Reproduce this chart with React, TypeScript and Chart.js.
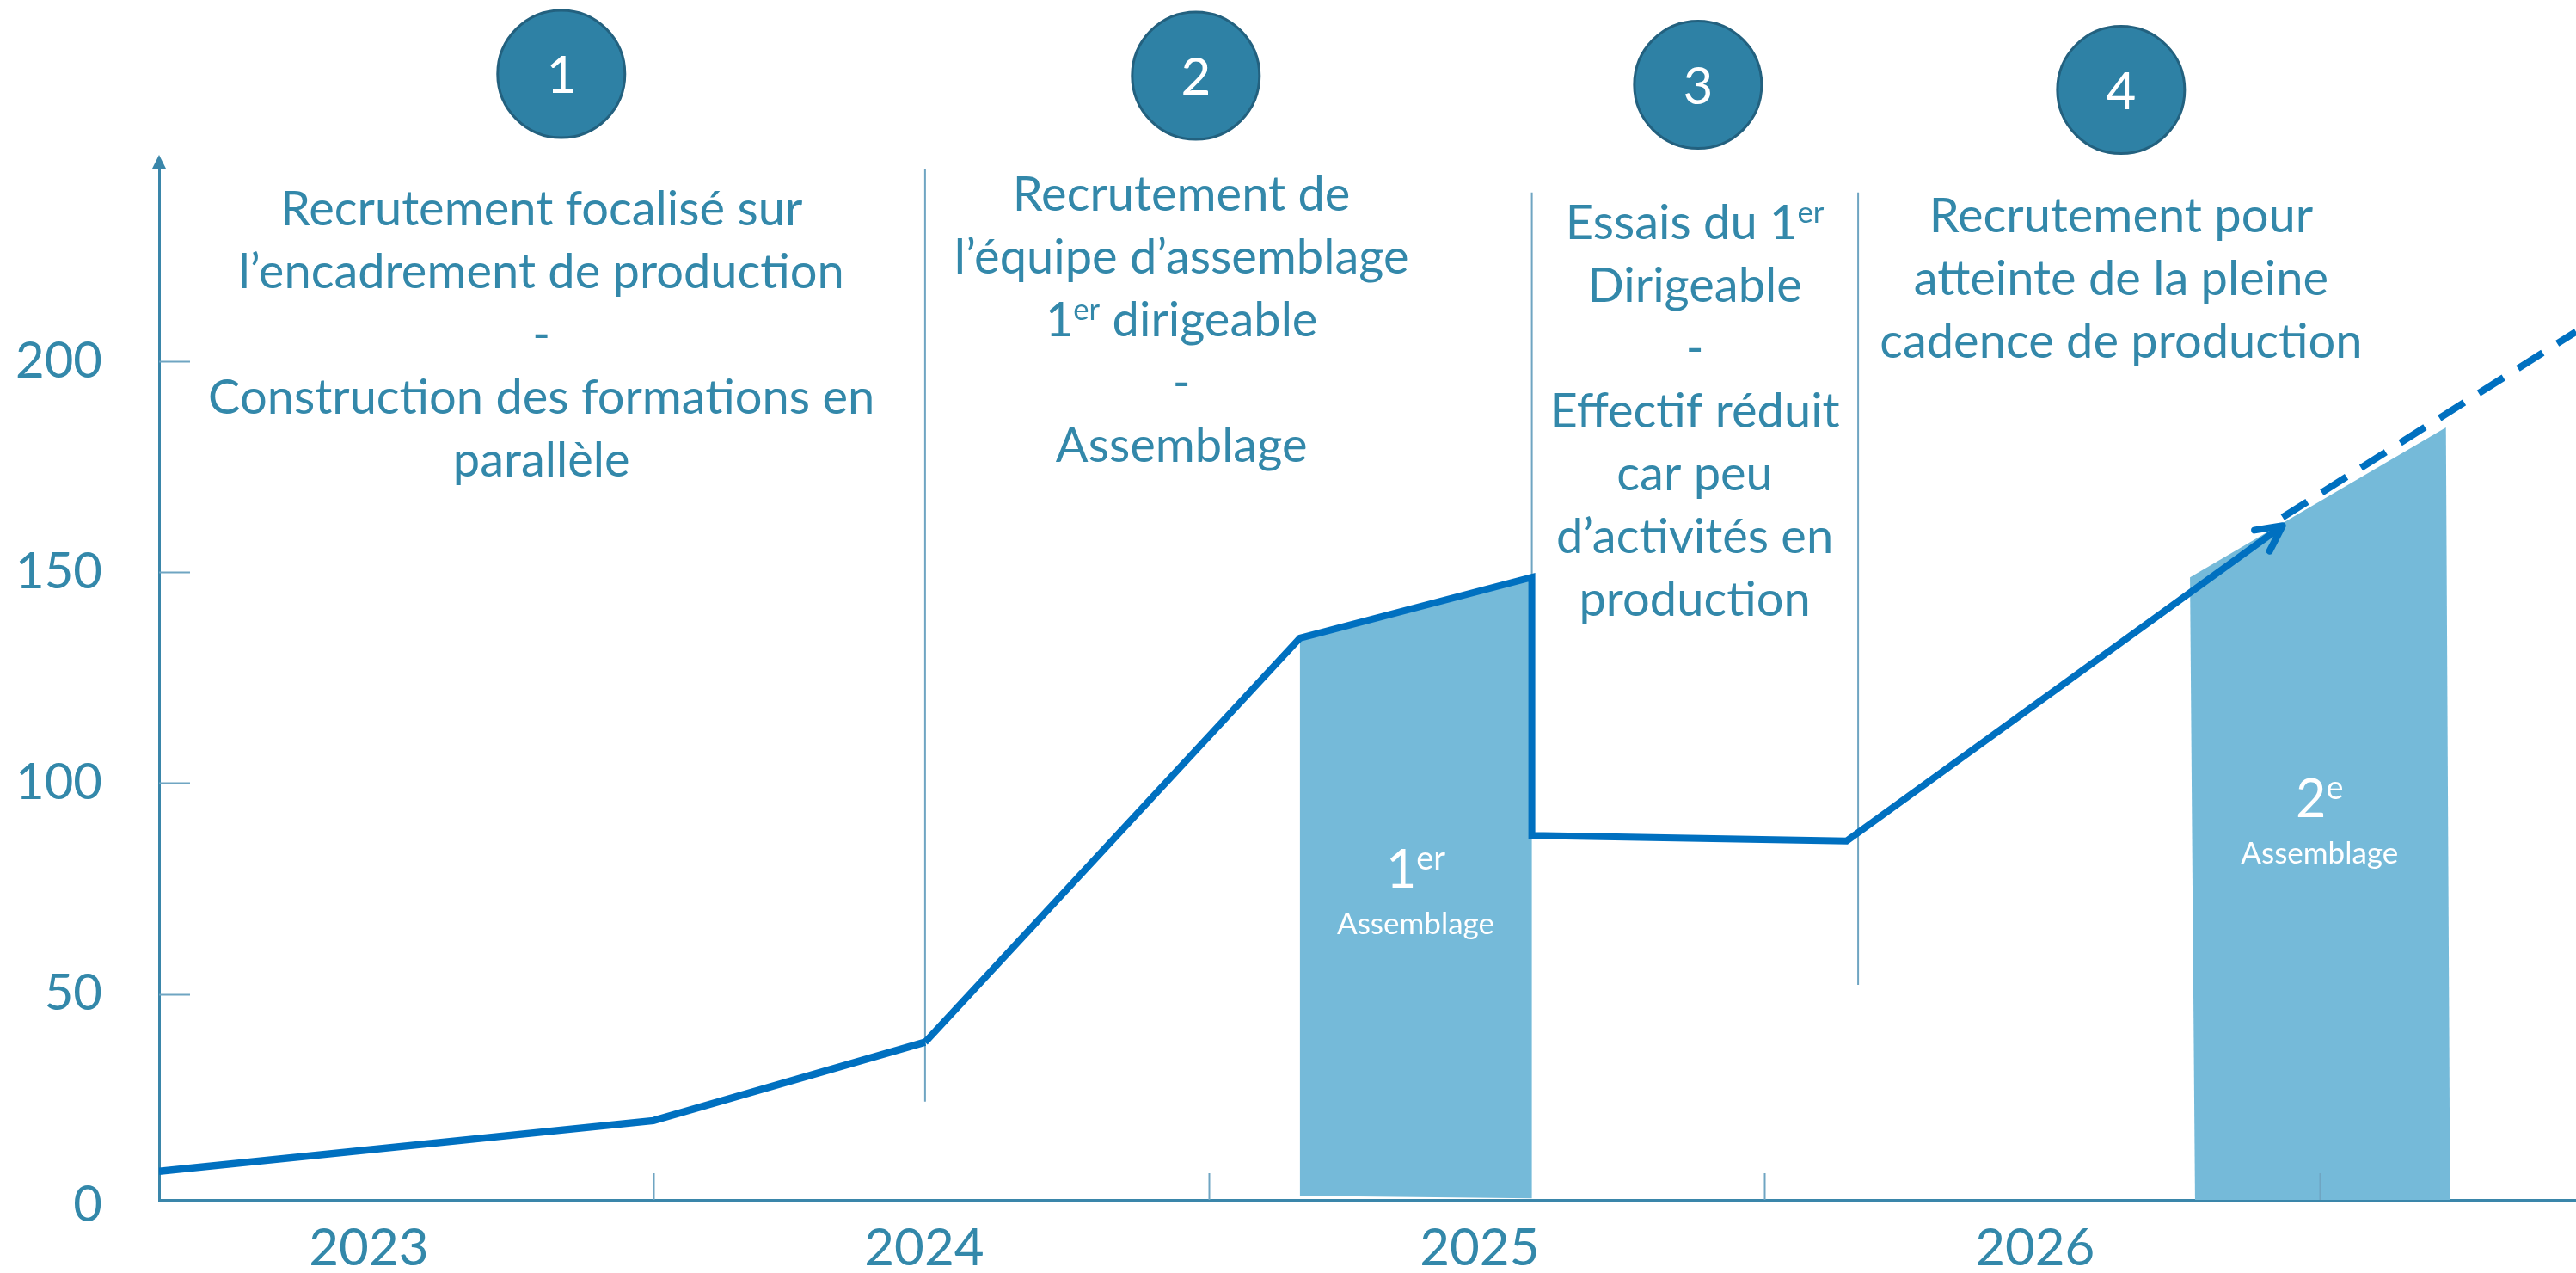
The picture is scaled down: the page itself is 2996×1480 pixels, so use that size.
import React, { useEffect, useRef } from 'react';
import { Chart, registerables } from 'chart.js';

Chart.register(...registerables);

// ---------------- data ----------------
// x values are months counted from January 2023
const yearLabels = ['2023', '2024', '2025', '2026'];
const yearLabelMonths = [6, 18, 30, 42];
const yearBoundaryMonths = [12, 24, 36, 48];
const yTickValues = [0, 50, 100, 150, 200];

const staffMonths = [1.32, 12, 17.87, 25.97, 30.98, 30.98, 37.78, 47.2];
const staffValues = [8, 20, 38.6, 134.4, 148.8, 87.6, 86.3, 161];

const projectionMonths = [47.2, 53.54];
const projectionValues = [163, 207];

const assembly1Months = [25.97, 30.98, 30.98, 25.97];
const assembly1Values = [134.4, 148.8, 1.6, 2.2];
const assembly2Months = [45.2, 50.73, 50.82, 45.31];
const assembly2Values = [148.8, 184.3, 0, 0.7];

const separatorMonths = [17.87, 30.98, 38.03];
const separatorTops = [245.5, 240, 240];
const separatorBottoms = [24.5, 148.8, 52.2];

const phaseNumbers = ['1', '2', '3', '4'];
const phase1Lines = ['Recrutement focalisé sur', 'l’encadrement de production', '-', 'Construction des formations en', 'parallèle'];
const phase2Lines = ['Recrutement de', 'l’équipe d’assemblage', '1{er} dirigeable', '-', 'Assemblage'];
const phase3Lines = ['Essais du 1{er}', 'Dirigeable', '-', 'Effectif réduit', 'car peu', 'd’activités en', 'production'];
const phase4Lines = ['Recrutement pour', 'atteinte de la pleine', 'cadence de production'];

const assemblyTitles = ['1{er}', '2{e}'];
const assemblySubtitle = 'Assemblage';

// ---------------- layout / style ----------------
const FONT = 'Lato, "Noto Sans", sans-serif';
const TEXT = '#3388AA';
const AXIS = '#3A86AA';
const TICK = '#6FA5C2';
const LINE = '#0070C0';
const FILL = '#75BAD9';
const CIRCLE = '#2E81A5';
const CIRCLE_EDGE = '#23617F';

const phaseLayout = [
  { lines: phase1Lines, textX: 9.58, circleX: 10.01, circleY: 86, baseline: 262 },
  { lines: phase2Lines, textX: 23.41, circleX: 23.72, circleY: 88, baseline: 245 },
  { lines: phase3Lines, textX: 34.5, circleX: 34.57, circleY: 98.5, baseline: 278 },
  { lines: phase4Lines, textX: 43.71, circleX: 43.71, circleY: 104.6, baseline: 270 },
];
const assemblyLayout = [
  { x: 28.47, titleBase: 1032, subBase: 1086 },
  { x: 48.0, titleBase: 950, subBase: 1004 },
];

function drawRich(ctx: CanvasRenderingContext2D, text: string, cx: number, baseline: number, size: number, color: string) {
  const parts = text
    .split(/(\{[^}]*\})/)
    .filter((p) => p.length > 0)
    .map((p) => (p.startsWith('{') ? { t: p.slice(1, -1), sup: true } : { t: p, sup: false }));
  const supSize = size * 0.62;
  let total = 0;
  const widths = parts.map((p) => {
    ctx.font = `${p.sup ? supSize : size}px ${FONT}`;
    const w = ctx.measureText(p.t).width;
    total += w;
    return w;
  });
  let x = cx - total / 2;
  ctx.fillStyle = color;
  ctx.textAlign = 'left';
  ctx.textBaseline = 'alphabetic';
  parts.forEach((p, i) => {
    ctx.font = `${p.sup ? supSize : size}px ${FONT}`;
    ctx.fillText(p.t, x, p.sup ? baseline - size * 0.34 : baseline);
    x += widths[i];
  });
}

const decorPlugin = {
  id: 'decor',
  afterDraw(chart: any) {
    const ctx: CanvasRenderingContext2D = chart.ctx;
    const xs = chart.scales.x;
    const ys = chart.scales.y;
    const area = chart.chartArea;
    ctx.save();

    // y-axis arrow head
    ctx.fillStyle = AXIS;
    ctx.beginPath();
    ctx.moveTo(area.left, area.top - 15);
    ctx.lineTo(area.left - 8, area.top + 1);
    ctx.lineTo(area.left + 8, area.top + 1);
    ctx.closePath();
    ctx.fill();

    // inner y tick marks
    ctx.strokeStyle = TICK;
    ctx.lineWidth = 2;
    yTickValues.filter((v) => v > 0).forEach((v) => {
      const py = Math.round(ys.getPixelForValue(v)) + 0.5;
      ctx.beginPath();
      ctx.moveTo(area.left, py);
      ctx.lineTo(area.left + 36, py);
      ctx.stroke();
    });
    // x year boundary tick marks
    yearBoundaryMonths.forEach((m) => {
      const px = Math.round(xs.getPixelForValue(m)) + 0.5;
      ctx.beginPath();
      ctx.moveTo(px, area.bottom);
      ctx.lineTo(px, area.bottom - 31);
      ctx.stroke();
    });

    // arrow head at end of staff line
    const n = staffMonths.length;
    const tx = xs.getPixelForValue(staffMonths[n - 1]);
    const ty = ys.getPixelForValue(staffValues[n - 1]);
    const sx = xs.getPixelForValue(staffMonths[n - 2]);
    const sy = ys.getPixelForValue(staffValues[n - 2]);
    const back = Math.atan2(sy - ty, sx - tx);
    const half = (27 * Math.PI) / 180;
    const len = 33;
    ctx.strokeStyle = LINE;
    ctx.lineWidth = 8;
    ctx.lineCap = 'round';
    ctx.lineJoin = 'round';
    ctx.beginPath();
    ctx.moveTo(tx + len * Math.cos(back + half), ty + len * Math.sin(back + half));
    ctx.lineTo(tx, ty);
    ctx.lineTo(tx + len * Math.cos(back - half), ty + len * Math.sin(back - half));
    ctx.stroke();

    // phase circles and texts
    phaseLayout.forEach((ph, i) => {
      const cx = xs.getPixelForValue(ph.circleX);
      ctx.beginPath();
      ctx.arc(cx, ph.circleY, 74, 0, Math.PI * 2);
      ctx.fillStyle = CIRCLE;
      ctx.fill();
      ctx.lineWidth = 3;
      ctx.strokeStyle = CIRCLE_EDGE;
      ctx.stroke();
      drawRich(ctx, phaseNumbers[i], cx, ph.circleY + 22, 60, '#FFFFFF');

      const tcx = xs.getPixelForValue(ph.textX);
      ph.lines.forEach((ln, k) => {
        drawRich(ctx, ln, tcx, ph.baseline + k * 73, 56, TEXT);
      });
    });

    // assembly labels
    assemblyLayout.forEach((al, i) => {
      const cx = xs.getPixelForValue(al.x);
      drawRich(ctx, assemblyTitles[i], cx, al.titleBase, 61, '#FFFFFF');
      drawRich(ctx, assemblySubtitle, cx, al.subBase, 35, '#FFFFFF');
    });

    ctx.restore();
  },
};

const toPoints = (xsArr: number[], ysArr: number[]) => xsArr.map((x, i) => ({ x, y: ysArr[i] }));

export default function App() {
  const ref = useRef<HTMLCanvasElement>(null);

  useEffect(() => {
    document.body.style.margin = '0';
    const datasets: any[] = [
      {
        label: 'Effectif',
        data: toPoints(staffMonths, staffValues),
        borderColor: LINE,
        borderWidth: 8,
        segment: { borderWidth: (c: any) => (c.p0DataIndex < 2 ? 8.5 : 8) },
        pointRadius: 0,
        fill: false,
        order: 0,
      },
      {
        label: 'Projection',
        data: toPoints(projectionMonths, projectionValues),
        borderColor: LINE,
        borderWidth: 8,
        borderDash: [34, 20],
        pointRadius: 0,
        fill: false,
        order: 1,
      },
      ...separatorMonths.map((m, i) => ({
        label: 'sep' + i,
        data: [
          { x: m, y: separatorTops[i] },
          { x: m, y: separatorBottoms[i] },
        ],
        borderColor: TICK,
        borderWidth: 2,
        pointRadius: 0,
        fill: false,
        order: 2,
      })),
      {
        label: 'Assemblage 1',
        data: toPoints(assembly1Months, assembly1Values),
        borderWidth: 0,
        borderColor: 'rgba(0,0,0,0)',
        backgroundColor: FILL,
        pointRadius: 0,
        fill: 'shape',
        order: 3,
      },
      {
        label: 'Assemblage 2',
        data: toPoints(assembly2Months, assembly2Values),
        borderWidth: 0,
        borderColor: 'rgba(0,0,0,0)',
        backgroundColor: FILL,
        pointRadius: 0,
        fill: 'shape',
        order: 3,
      },
    ];

    const chart = new Chart(ref.current as HTMLCanvasElement, {
      type: 'line',
      data: { datasets },
      options: {
        responsive: false,
        animation: false,
        devicePixelRatio: 1,
        layout: { padding: { top: 195, left: 0, right: 0, bottom: 0 } },
        plugins: { legend: { display: false }, tooltip: { enabled: false } },
        elements: { line: { tension: 0 } },
        scales: {
          x: {
            type: 'linear',
            min: 1.32,
            max: 53.54,
            bounds: 'data',
            grid: { display: false },
            border: { display: true, color: AXIS, width: 3 },
            ticks: {
              autoSkip: false,
              maxRotation: 0,
              padding: 13,
              labelOffset: -8,
              color: TEXT,
              font: { family: FONT, size: 60 },
              callback: (_v: any, i: number) => yearLabels[i] ?? '',
            },
            afterBuildTicks: (s: any) => {
              s.ticks = yearLabelMonths.map((v) => ({ value: v }));
            },
            afterFit: (s: any) => {
              s.height = 85;
              s.paddingLeft = 0;
              s.paddingRight = 0;
            },
          },
          y: {
            type: 'linear',
            min: 1.223,
            max: 245.87,
            bounds: 'data',
            grid: { display: false },
            border: { display: true, color: AXIS, width: 3 },
            ticks: {
              padding: 58,
              color: TEXT,
              font: { family: FONT, size: 58 },
              callback: (v: any) => String(v),
            },
            afterBuildTicks: (s: any) => {
              s.ticks = yTickValues.map((v) => ({ value: v }));
            },
            afterFit: (s: any) => {
              s.width = 185;
              s.paddingTop = 0;
              s.paddingBottom = 0;
            },
          },
        },
      } as any,
      plugins: [decorPlugin],
    });
    return () => chart.destroy();
  }, []);

  return (
    <div style={{ width: 2996, height: 1480, background: '#ffffff' }}>
      <canvas ref={ref} width={2996} height={1480} style={{ display: 'block' }} />
    </div>
  );
}
